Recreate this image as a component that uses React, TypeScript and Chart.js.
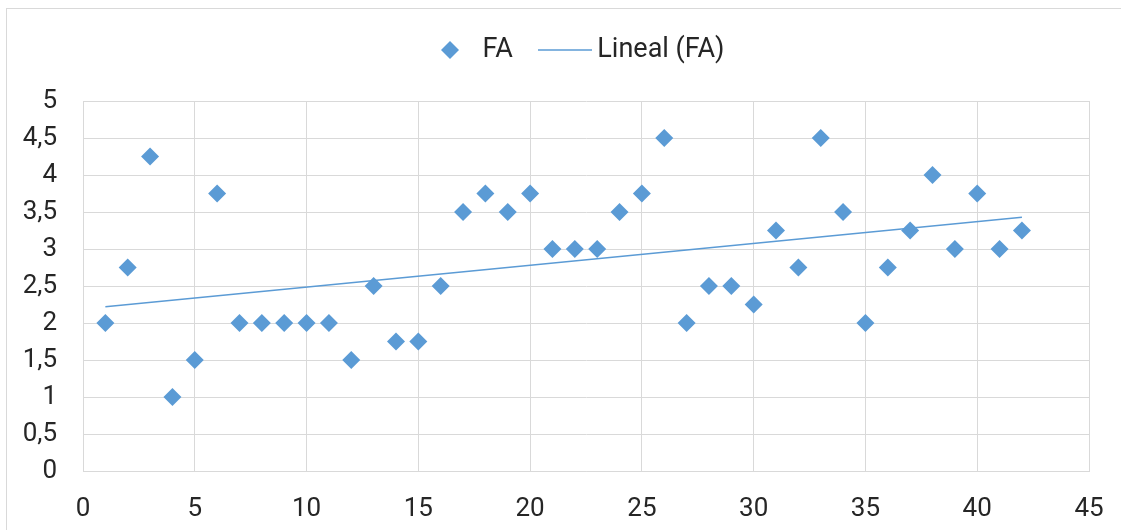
import React, { useEffect, useRef } from "react";
import { Chart, registerables } from "chart.js";

Chart.register(...registerables);

const xValues: number[] = [
  1, 2, 3, 4, 5, 6, 7, 8, 9, 10, 11, 12, 13, 14, 15, 16, 17, 18, 19, 20, 21,
  22, 23, 24, 25, 26, 27, 28, 29, 30, 31, 32, 33, 34, 35, 36, 37, 38, 39, 40, 41, 42,
];
const faValues: number[] = [
  2, 2.75, 4.25, 1, 1.5, 3.75, 2, 2, 2, 2, 2, 1.5, 2.5, 1.75, 1.75, 2.5, 3.5,
  3.75, 3.5, 3.75, 3, 3, 3, 3.5, 3.75, 4.5, 2, 2.5, 2.5, 2.25, 3.25, 2.75, 4.5,
  3.5, 2, 2.75, 3.25, 4, 3, 3.75, 3, 3.25,
];
const trendX: number[] = [1, 42];
const trendY: number[] = [2.22, 3.43];
const seriesLabels: string[] = ["FA", "Lineal (FA)"];

const BLUE = "#5B9BD5";
const GRID = "#D9D9D9";
const TEXT = "#262626";
const FONT = "Roboto";
const TICK_SIZE = 26;
const LEGEND_SIZE = 27;
const LEGEND_PAD = 33;
const LEGEND_CENTER_Y = 50;
const LEGEND_FIRST_BOX_X = 431;

function makeDiamond(): HTMLCanvasElement {
  const c = document.createElement("canvas");
  c.width = 20;
  c.height = 20;
  const ctx = c.getContext("2d")!;
  ctx.fillStyle = BLUE;
  ctx.beginPath();
  ctx.moveTo(1, 10);
  ctx.lineTo(10, 1);
  ctx.lineTo(19, 10);
  ctx.lineTo(10, 19);
  ctx.closePath();
  ctx.fill();
  return c;
}

function makeLine(): HTMLCanvasElement {
  const c = document.createElement("canvas");
  c.width = 54;
  c.height = 4;
  const ctx = c.getContext("2d")!;
  ctx.strokeStyle = BLUE;
  ctx.lineWidth = 1.5;
  ctx.beginPath();
  ctx.moveTo(0, 2);
  ctx.lineTo(54, 2);
  ctx.stroke();
  return c;
}

const legendPlacer = {
  id: "legendPlacer",
  afterLayout(chart: any) {
    const lg = chart.legend;
    if (!lg) return;
    const newTop = LEGEND_CENTER_Y - LEGEND_SIZE / 2 - LEGEND_PAD;
    const h = lg.height;
    lg.top = newTop;
    lg.bottom = newTop + h;
    const w = lg.width;
    lg.left = LEGEND_FIRST_BOX_X - LEGEND_PAD;
    lg.right = lg.left + w;
  },
};

export default function App() {
  const ref = useRef<HTMLCanvasElement | null>(null);

  useEffect(() => {
    if (!ref.current) return;
    const diamond = makeDiamond();
    const line = makeLine();
    const chart = new Chart(ref.current, {
      type: "scatter",
      data: {
        datasets: [
          {
            label: seriesLabels[0],
            data: xValues.map((x, i) => ({ x, y: faValues[i] })),
            pointStyle: "rectRot",
            pointRadius: 9,
            pointHoverRadius: 9,
            backgroundColor: BLUE,
            borderColor: BLUE,
            borderWidth: 0,
          },
          {
            label: seriesLabels[1],
            type: "line",
            data: trendX.map((x, i) => ({ x, y: trendY[i] })),
            borderColor: BLUE,
            backgroundColor: BLUE,
            borderWidth: 1.5,
            pointRadius: 0,
            showLine: true,
            fill: false,
          } as any,
        ],
      },
      plugins: [legendPlacer],
      options: {
        animation: false,
        responsive: false,
        layout: { padding: { left: 0, right: 32, top: 0, bottom: 0 } },
        plugins: {
          tooltip: { enabled: false },
          legend: {
            position: "top",
            align: "start",
            labels: {
              usePointStyle: true,
              pointStyleWidth: 38,
              boxHeight: 20,
              padding: LEGEND_PAD,
              color: TEXT,
              font: { family: FONT, size: LEGEND_SIZE },
              generateLabels: (ch: any) => {
                const items = (Chart.defaults.plugins.legend.labels as any).generateLabels(ch);
                items[0].pointStyle = diamond;
                items[1].pointStyle = line;
                return items;
              },
            },
          },
        },
        scales: {
          x: {
            type: "linear",
            min: 0,
            max: 45,
            ticks: {
              stepSize: 5,
              padding: 23,
              color: TEXT,
              font: { family: FONT, size: TICK_SIZE },
              maxRotation: 0,
            },
            grid: { color: GRID, lineWidth: 1, drawTicks: false },
            border: { color: GRID },
            afterFit: (s: any) => {
              s.height = 59;
              s.paddingLeft = 0;
              s.paddingRight = 0;
            },
          },
          y: {
            type: "linear",
            min: 0,
            max: 5,
            ticks: {
              stepSize: 0.5,
              padding: 26,
              color: TEXT,
              font: { family: FONT, size: TICK_SIZE },
              callback: (v: any) => String(v).replace(".", ","),
            },
            grid: { color: GRID, lineWidth: 1, drawTicks: false },
            border: { color: GRID },
            afterFit: (s: any) => {
              s.width = 83;
              s.paddingTop = 101;
            },
          },
        },
      },
    });
    return () => chart.destroy();
  }, []);

  return (
    <div
      style={{
        position: "fixed",
        left: 0,
        top: 0,
        width: 1121,
        height: 530,
        overflow: "hidden",
        background: "#fff",
      }}
    >
      <div
        style={{
          position: "absolute",
          left: 6,
          top: 8,
          width: 1300,
          height: 700,
          border: `1px solid ${GRID}`,
          pointerEvents: "none",
        }}
      />
      <canvas
        ref={ref}
        width={1121}
        height={530}
        style={{ position: "absolute", left: 0, top: 0, width: 1121, height: 530 }}
      />
    </div>
  );
}
